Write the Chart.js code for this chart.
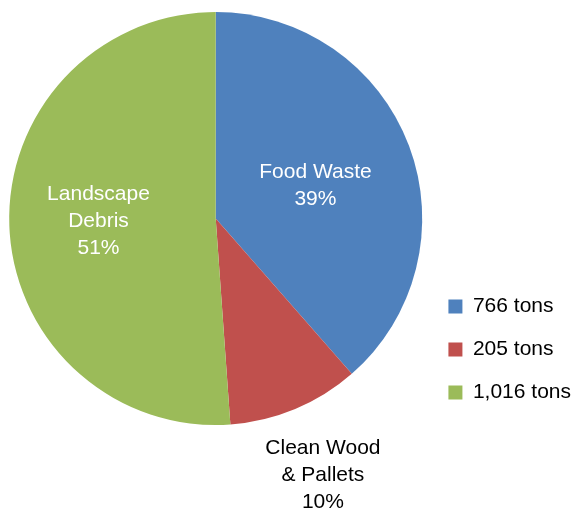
<!DOCTYPE html>
<html>
<head>
<meta charset="utf-8">
<script src="https://cdn.jsdelivr.net/npm/chart.js@4.4.1/dist/chart.umd.min.js"></script>
<style>
  html, body { margin: 0; padding: 0; background: #fff; }
  #wrap { width: 572px; height: 508px; }
</style>
</head>
<body>
<div id="wrap"><canvas id="residuosChart" width="572" height="508"></canvas></div>
<script>
// tonnage per material stream
const categorias = [['Food Waste'], ['Clean Wood', '& Pallets'], ['Landscape', 'Debris']];
const toneladas = [766, 205, 1016];
const leyenda = ['766 tons', '205 tons', '1,016 tons'];
const colores = ['#4F81BD', '#C0504D', '#9BBB59'];

const fuente = 'Liberation Sans, Arial, Helvetica, sans-serif';

// where each slice label sits: fraction of the radius along the mid angle, plus a small nudge down
const labelDist = [0.516, 1.348, 0.568];
const labelDy = [5, 0, -1];
const labelColor = ['#ffffff', '#000000', '#ffffff'];

const etiquetasPlugin = {
    id: 'etiquetas',
    afterDatasetsDraw(chart) {
        const ctx = chart.ctx;
        const meta = chart.getDatasetMeta(0);
        const total = toneladas.reduce((a, b) => a + b, 0);
        ctx.save();
        ctx.font = '21px ' + fuente;
        ctx.textAlign = 'center';
        ctx.textBaseline = 'middle';
        meta.data.forEach(function(arc, i) {
            const p = arc.getProps(['x', 'y', 'startAngle', 'endAngle', 'outerRadius'], true);
            const mid = (p.startAngle + p.endAngle) / 2;
            const r = p.outerRadius * labelDist[i];
            const cx = p.x + Math.cos(mid) * r;
            const cy = p.y + Math.sin(mid) * r + labelDy[i];
            const lines = categorias[i].concat([Math.round(toneladas[i] / total * 100) + '%']);
            const lh = 27;
            const y0 = cy - (lines.length - 1) * lh / 2;
            ctx.fillStyle = labelColor[i];
            lines.forEach(function(t, j) {
                ctx.fillText(t, cx, y0 + j * lh);
            });
        });
        ctx.restore();
    }
};

const ctx = document.getElementById('residuosChart').getContext('2d');
const chart = new Chart(ctx, {
    type: 'pie',
    data: {
        labels: leyenda,
        datasets: [{
            data: toneladas,
            backgroundColor: colores,
            borderWidth: 0
        }]
    },
    options: {
        responsive: false,
        animation: false,
        layout: {
            padding: { top: 12, bottom: 83, left: 5, right: -9 }
        },
        plugins: {
            tooltip: { enabled: false },
            legend: {
                position: 'right',
                align: 'end',
                labels: {
                    boxWidth: 14,
                    boxHeight: 14,
                    padding: 22,
                    color: '#000',
                    font: { size: 21, family: fuente }
                }
            }
        }
    },
    plugins: [etiquetasPlugin]
});
</script>
</body>
</html>
